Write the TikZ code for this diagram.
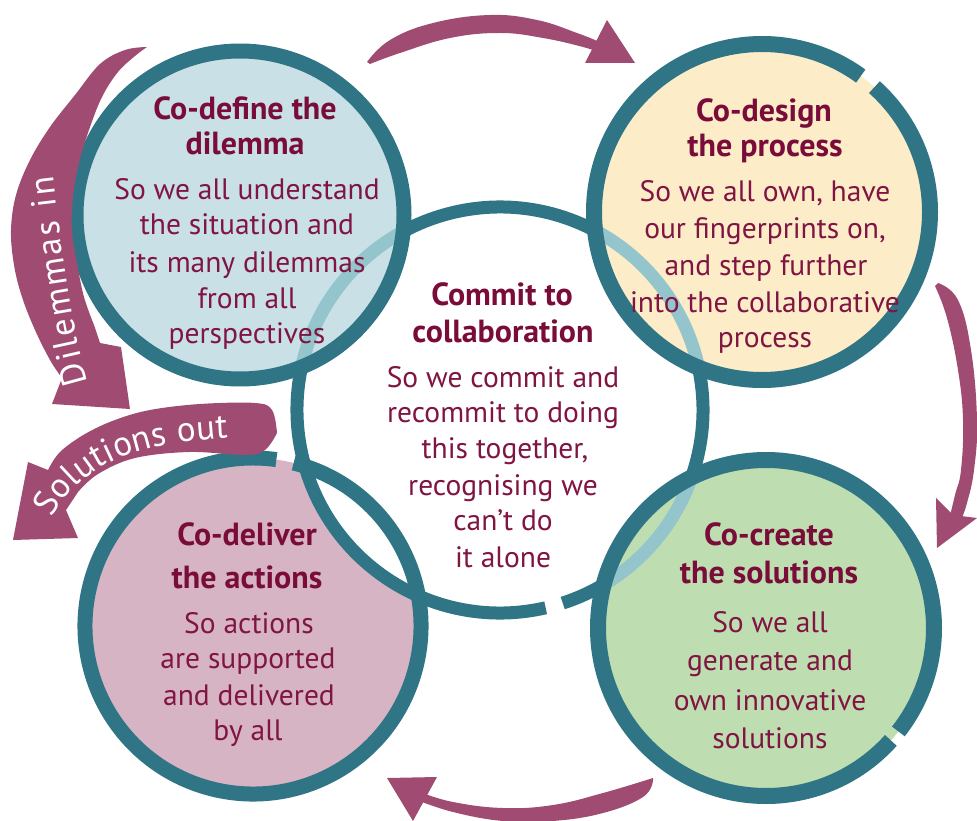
\documentclass[tikz,border=0pt]{standalone}
\usepackage{fontspec}
\setmainfont{PT Sans}
\usetikzlibrary{decorations.text}
\definecolor{ringdark}{RGB}{47,117,133}
\definecolor{ringlight}{RGB}{148,196,204}
\definecolor{bluefill}{RGB}{200,224,230}
\definecolor{yellowfill}{RGB}{252,236,200}
\definecolor{pinkfill}{RGB}{214,180,196}
\definecolor{greenfill}{RGB}{190,221,176}
\definecolor{arrowcol}{RGB}{160,76,114}
\definecolor{txtcol}{RGB}{128,20,66}
\definecolor{titlecol}{RGB}{122,12,58}
\begin{document}
\begin{tikzpicture}[x=1pt,y=-1pt,
  titletext/.style={anchor=base, inner sep=0pt, text=titlecol, font=\fontsize{32}{38}\selectfont\bfseries},
  bodytext/.style={anchor=base, inner sep=0pt, text=txtcol, font=\fontsize{29.5}{35}\selectfont},
  ring/.style={draw=ringdark, line width=15pt},
  cring/.style={draw=ringdark, line width=13pt},
  lightring/.style={draw=ringlight, line width=13pt},
  bigarrow/.style={fill=arrowcol, draw=none},
]
\useasboundingbox (0,0) rectangle (977,821);
\fill[white] (0,0) rectangle (977,821);

\coordinate (cB) at (240,215);
\coordinate (cY) at (762,212);
\coordinate (cP) at (253,626);
\coordinate (cG) at (766,628);
\coordinate (cC) at (500,410);

% pink circle (below the centre)
\fill[pinkfill] (cP) circle[radius=168];
% centre circle
\fill[white] (cC) circle[radius=203];
\draw[cring] ([shift={(77:203)}]cC) arc[start angle=77, end angle=432, radius=203];
% pink ring
\draw[ring] ([shift={(-76:168)}]cP) arc[start angle=-76, end angle=278, radius=168];

% blue circle
\fill[bluefill] (cB) circle[radius=164];
\begin{scope}
  \clip (cB) circle[radius=164];
  \draw[lightring] (cC) circle[radius=203];
\end{scope}
\draw[ring] (cB) circle[radius=164];

% yellow circle
\fill[yellowfill] (cY) circle[radius=168];
\begin{scope}
  \clip (cY) circle[radius=168];
  \draw[lightring] (cC) circle[radius=203];
\end{scope}
\draw[ring, line width=16pt] ([shift={(-48:168)}]cY) arc[start angle=-48, end angle=306, radius=168];

% green circle
\fill[greenfill] (cG) circle[radius=168];
\begin{scope}
  \clip (cG) circle[radius=168];
  \draw[lightring] (cC) circle[radius=203];
\end{scope}
\draw[ring, line width=16pt] ([shift={(42:168)}]cG) arc[start angle=42, end angle=398, radius=168];

% top arrow
\fill[bigarrow] plot[smooth, tension=0.7] coordinates {(367,62) (390,40) (433,23) (490,15) (537,20) (577,33) (602,43)}
  -- plot[smooth, tension=0.7] coordinates {(604,54) (583,47) (543,38) (500,33) (450,38) (400,53) (370,64)} -- cycle;
\fill[bigarrow] (607,20) -- (635,63) -- (585,63) -- cycle;

% right arrow
\fill[bigarrow] plot[smooth, tension=0.7] coordinates {(938,283) (958,300) (971,350) (977,420) (974,470) (967,503) (961,520)}
  -- plot[smooth, tension=0.7] coordinates {(949,520) (955,495) (961,470) (963,420) (958,370) (947,318) (935,286)} -- cycle;
\fill[bigarrow] (936,498) -- (953,515) -- (977,518) -- (937,548) -- cycle;

% bottom arrow
\fill[bigarrow] plot[smooth, tension=0.7] coordinates {(653,778) (603,793) (553,805) (503,808) (453,802) (420,792)}
  -- plot[smooth, tension=0.7] coordinates {(417,800) (453,812) (503,821) (553,821) (603,813) (643,797) (653,780)} -- cycle;
\fill[bigarrow] (387,778) -- (437,777) -- (413,821) -- cycle;

% Dilemmas in
\fill[bigarrow] plot[smooth, tension=0.6] coordinates {(147,47) (125,50) (100,64) (75,95) (50,127) (30,160) (16,195) (11,230) (14,265) (22,297) (35,330) (50,360) (62,378)}
  -- (52,404) -- (130,409) -- (121,347) -- (100,343)
  -- plot[smooth, tension=0.6] coordinates {(94,325) (84,297) (77,263) (72,230) (73,197) (79,163) (89,130) (102,97) (118,72) (135,56) (147,47)} -- cycle;
\path[decorate, decoration={text along path, text align=fit to path, text color=white,
   text={|\fontsize{35}{35}\selectfont|Dilemmas in}}]
   (88,382) .. controls (72,330) and (60,240) .. (53,176);

% Solutions out
\fill[bigarrow] plot[smooth, tension=0.6] coordinates {(277,433) (272,410) (255,403) (200,404) (150,410) (115,420) (85,434) (60,452) (48,470)}
  -- (28,462) -- (13,540) -- (78,538) -- (66,510)
  -- plot[smooth, tension=0.6] coordinates {(78,492) (98,474) (135,458) (190,452) (245,455) (265,450) (277,433)} -- cycle;
\path[decorate, decoration={text along path, text align=fit to path, text color=white,
   text={|\fontsize{35}{35}\selectfont|Solutions out}}]
   (52,518) .. controls (78,472) and (120,443) .. (228,438);

% texts: blue
\node[titletext] (tB1) at (245,120) {Co-define the};
\node[titletext] (tB2) at (245,155) {dilemma};
\node[bodytext] (bB1) at (247,200) {So we all understand};
\node[bodytext] (bB2) at (247,235) {the situation and};
\node[bodytext] (bB3) at (247,272) {its many dilemmas};
\node[bodytext] (bB4) at (247,308) {from all};
\node[bodytext] (bB5) at (247,343) {perspectives};
% yellow
\node[titletext] (tY1) at (764,122) {Co-design};
\node[titletext] (tY2) at (765,157) {the process};
\node[bodytext] (bY1) at (765,202) {So we all own, have};
\node[bodytext] (bY2) at (765,238) {our fingerprints on,};
\node[bodytext] (bY3) at (766,275) {and step further};
\node[bodytext] (bY4) at (765,312) {into the collaborative};
\node[bodytext] (bY5) at (765,347) {process};
% centre
\node[titletext] (tC1) at (502,305) {Commit to};
\node[titletext] (tC2) at (503,342) {collaboration};
\node[bodytext] (bC1) at (503,387) {So we commit and};
\node[bodytext] (bC2) at (503,422) {recommit to doing};
\node[bodytext] (bC3) at (505,458) {this together,};
\node[bodytext] (bC4) at (503,495) {recognising we};
\node[bodytext] (bC5) at (503,530) {can’t do};
\node[bodytext] (bC6) at (503,567) {it alone};
% pink
\node[titletext] (tP1) at (247,545) {Co-deliver};
\node[titletext] (tP2) at (247,588) {the actions};
\node[bodytext] (bP1) at (249,633) {So actions};
\node[bodytext] (bP2) at (248,668) {are supported};
\node[bodytext] (bP3) at (249,705) {and delivered};
\node[bodytext] (bP4) at (248,740) {by all};
% green
\node[titletext] (tG1) at (769,545) {Co-create};
\node[titletext] (tG2) at (769,583) {the solutions};
\node[bodytext] (bG1) at (770,632) {So we all};
\node[bodytext] (bG2) at (770,670) {generate and};
\node[bodytext] (bG3) at (770,710) {own innovative};
\node[bodytext] (bG4) at (770,748) {solutions};
\end{tikzpicture}
\end{document}
